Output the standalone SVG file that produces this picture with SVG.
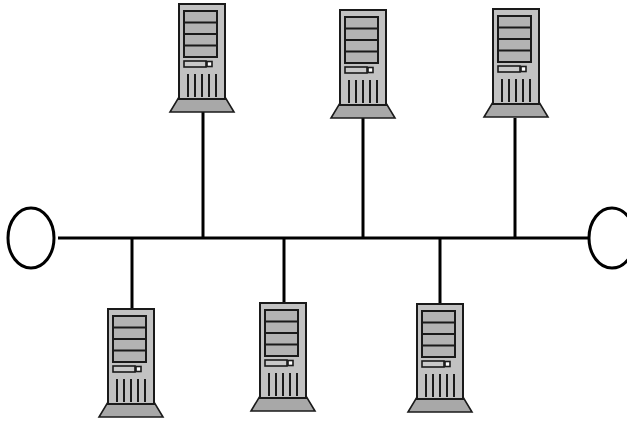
<svg xmlns="http://www.w3.org/2000/svg" xmlns:xlink="http://www.w3.org/1999/xlink" width="627" height="424" viewBox="0 0 627 424">
<style>
.ln{stroke:#000;stroke-width:3;fill:none}
.term{fill:#fff;stroke:#000;stroke-width:3}
.ol{stroke:#1a1a1a;stroke-width:2}
</style>
<defs>
<g id="srv">
<polygon points="0,93 46,93 55,108 -9,108" fill="#a8a8a8" stroke="#1a1a1a" stroke-width="1.6"/>
<rect x="0" y="0" width="46" height="95" fill="#c2c2c2" class="ol"/>
<rect x="5" y="7" width="33" height="46" fill="#b3b3b3" class="ol"/>
<line x1="5" y1="18.5" x2="38" y2="18.5" class="ol"/>
<line x1="5" y1="30" x2="38" y2="30" class="ol"/>
<line x1="5" y1="41.5" x2="38" y2="41.5" class="ol"/>
<rect x="5" y="57" width="22" height="6" fill="#c9c9c9" stroke="#1a1a1a" stroke-width="1.6"/>
<rect x="28" y="57.5" width="5" height="5" fill="#fff" stroke="#1a1a1a" stroke-width="1.6"/>
<g class="ol">
<line x1="9" y1="70" x2="9" y2="93"/>
<line x1="16" y1="70" x2="16" y2="93"/>
<line x1="23" y1="70" x2="23" y2="93"/>
<line x1="30" y1="70" x2="30" y2="93"/>
<line x1="37" y1="70" x2="37" y2="93"/>
</g>
</g>
</defs>
<rect width="627" height="424" fill="#fff"/>
<g id="connectors" class="ln">
<line x1="58" y1="238" x2="590" y2="238"/>
<line x1="203" y1="112" x2="203" y2="238"/>
<line x1="363" y1="118" x2="363" y2="238"/>
<line x1="515" y1="118" x2="515" y2="238"/>
<line x1="132" y1="238" x2="132" y2="310"/>
<line x1="284" y1="238" x2="284" y2="304"/>
<line x1="440" y1="238" x2="440" y2="305"/>
</g>
<g id="terminator-left"><ellipse cx="31" cy="238" rx="23" ry="30" class="term"/></g>
<g id="terminator-right"><ellipse cx="612" cy="238" rx="23" ry="30" class="term"/></g>
<g id="server-top-1"><use xlink:href="#srv" transform="translate(179,4)"/></g>
<g id="server-top-2"><use xlink:href="#srv" transform="translate(340,10)"/></g>
<g id="server-top-3"><use xlink:href="#srv" transform="translate(493,9)"/></g>
<g id="server-bottom-1"><use xlink:href="#srv" transform="translate(108,309)"/></g>
<g id="server-bottom-2"><use xlink:href="#srv" transform="translate(260,303)"/></g>
<g id="server-bottom-3"><use xlink:href="#srv" transform="translate(417,304)"/></g>
</svg>
